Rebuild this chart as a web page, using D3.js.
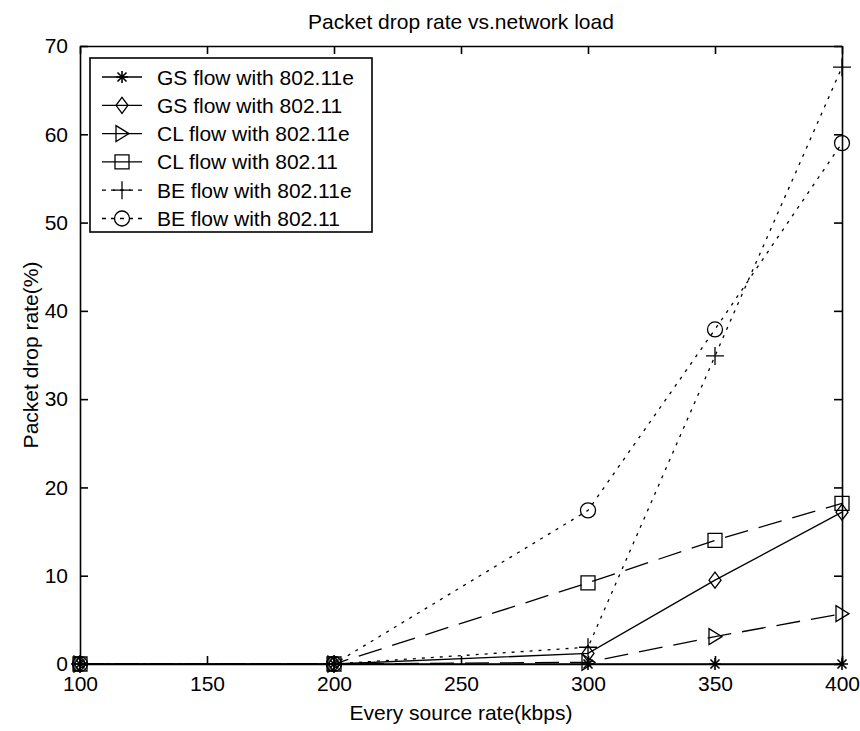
<!DOCTYPE html>
<html>
<head>
<meta charset="utf-8">
<script src="https://cdn.jsdelivr.net/npm/d3@7"></script>
<style>
  html, body { margin: 0; padding: 0; background: #fff; }
  svg { display: block; }
  text { font-family: "Liberation Sans", Arial, sans-serif; fill: #000; }
</style>
</head>
<body>
<svg id="chart" width="860" height="731"></svg>
<script>
// Source rate (kbps) at which each flow was measured
const rates = [100, 200, 300, 350, 400];

// Packet drop rate (%) per flow
const gsE  = [0, 0, 0.0, 0.0, 0.0];
const gs   = [0, 0, 1.2, 9.5, 17.2];
const clE  = [0, 0, 0.2, 3.1, 5.7];
const cl   = [0, 0, 9.2, 14.0, 18.2];
const beE  = [0, 0, 1.9, 34.9, 67.6];
const be   = [0, 0, 17.4, 37.9, 59.0];

const seriesNames = [
  "GS flow with 802.11e",
  "GS flow with 802.11",
  "CL flow with 802.11e",
  "CL flow with 802.11",
  "BE flow with 802.11e",
  "BE flow with 802.11"
];

const xTicks = [100, 150, 200, 250, 300, 350, 400];
const yTicks = [0, 10, 20, 30, 40, 50, 60, 70];

const titleText = "Packet drop rate vs.network load";
const xLabel = "Every source rate(kbps)";
const yLabel = "Packet drop rate(%)";

// Drawing styles for each flow
const styles = [
  { values: gsE, marker: "star",     dash: null },
  { values: gs,  marker: "diamond",  dash: null },
  { values: clE, marker: "triangle", dash: "24,11" },
  { values: cl,  marker: "square",   dash: "24,11" },
  { values: beE, marker: "plus",     dash: "3,6" },
  { values: be,  marker: "circle",   dash: "3,6" }
];

const svg = d3.select("#chart");
const L = 80, R = 842, T = 46, B = 664;
const FS = 21;

const x = d3.scaleLinear().domain([100, 400]).range([L, R]);
const y = d3.scaleLinear().domain([0, 70]).range([B, T]);

// Title and axis labels
svg.append("text").attr("x", (L + R) / 2).attr("y", 29)
  .attr("text-anchor", "middle").attr("font-size", FS).text(titleText);
svg.append("text").attr("x", (L + R) / 2).attr("y", 720)
  .attr("text-anchor", "middle").attr("font-size", FS).text(xLabel);
svg.append("text")
  .attr("transform", `translate(38,${(T + B) / 2}) rotate(-90)`)
  .attr("text-anchor", "middle").attr("font-size", FS).text(yLabel);

// Axes with inward ticks on all four sides of the box
const tickLen = 8;
const axisG = svg.append("g");

function styleAxis(g) {
  g.selectAll("path.domain").attr("stroke", "#000").attr("stroke-width", 1.6);
  g.selectAll(".tick line").attr("stroke", "#000").attr("stroke-width", 1.6);
  g.selectAll(".tick text").attr("font-size", FS)
    .attr("font-family", "Liberation Sans, Arial, sans-serif").attr("fill", "#000");
}

const xBottom = axisG.append("g").attr("transform", `translate(0,${B})`)
  .call(d3.axisBottom(x).tickValues(xTicks).tickFormat(d3.format("d"))
    .tickSizeInner(-tickLen).tickSizeOuter(0).tickPadding(12));
styleAxis(xBottom);

const xTop = axisG.append("g").attr("transform", `translate(0,${T})`)
  .call(d3.axisTop(x).tickValues(xTicks).tickFormat("")
    .tickSizeInner(-tickLen).tickSizeOuter(0));
styleAxis(xTop);

const yLeft = axisG.append("g").attr("transform", `translate(${L},0)`)
  .call(d3.axisLeft(y).tickValues(yTicks).tickFormat(d3.format("d"))
    .tickSizeInner(-tickLen).tickSizeOuter(0).tickPadding(12));
styleAxis(yLeft);

const yRight = axisG.append("g").attr("transform", `translate(${R},0)`)
  .call(d3.axisRight(y).tickValues(yTicks).tickFormat("")
    .tickSizeInner(-tickLen).tickSizeOuter(0));
styleAxis(yRight);

// Marker shapes drawn as paths centred on (0,0)
function markerPath(kind) {
  switch (kind) {
    case "star":
      return "M-6,0L6,0M0,-6L0,6M-4.5,-4.5L4.5,4.5M-4.5,4.5L4.5,-4.5";
    case "diamond":
      return "M0,-8L6,0L0,8L-6,0Z";
    case "triangle":
      return "M-6,-8L7,0L-6,8Z";
    case "square":
      return "M-7,-7L7,-7L7,7L-7,7Z";
    case "plus":
      return "M-9,0L9,0M0,-9L0,9";
    case "circle":
      return "M-7.5,0A7.5,7.5 0 1,0 7.5,0A7.5,7.5 0 1,0 -7.5,0Z";
  }
}

function drawMarker(g, kind, cx, cy) {
  g.append("path")
    .attr("d", markerPath(kind))
    .attr("transform", `translate(${cx},${cy})`)
    .attr("fill", kind === "star" ? "#000" : "none")
    .attr("stroke", "#000")
    .attr("stroke-width", kind === "star" ? 1.6 : 1.3);
}

const line = d3.line().x((d, i) => x(rates[i])).y(d => y(d));

const plot = svg.append("g");
styles.forEach(s => {
  plot.append("path")
    .datum(s.values)
    .attr("d", line)
    .attr("fill", "none")
    .attr("stroke", "#000")
    .attr("stroke-width", 1.3)
    .attr("stroke-dasharray", s.dash);
  s.values.forEach((v, i) => drawMarker(plot, s.marker, x(rates[i]), y(v)));
});

// Legend
const lg = svg.append("g");
const lgX = 90, lgY = 58, lgW = 282, lgRow = 28.3;
lg.append("rect").attr("x", lgX).attr("y", lgY)
  .attr("width", lgW).attr("height", 174)
  .attr("fill", "#fff").attr("stroke", "#000").attr("stroke-width", 1.6);

styles.forEach((s, i) => {
  const cy = 77 + i * lgRow;
  lg.append("line").attr("x1", 102).attr("x2", 142)
    .attr("y1", cy).attr("y2", cy)
    .attr("stroke", "#000").attr("stroke-width", 1.3)
    .attr("stroke-dasharray", s.dash ? (s.marker === "plus" || s.marker === "circle" ? "4,5" : null) : null);
  drawMarker(lg, s.marker, 122, cy);
  lg.append("text").attr("x", 157).attr("y", cy + 7.5)
    .attr("font-size", FS).text(seriesNames[i]);
});
</script>
</body>
</html>
